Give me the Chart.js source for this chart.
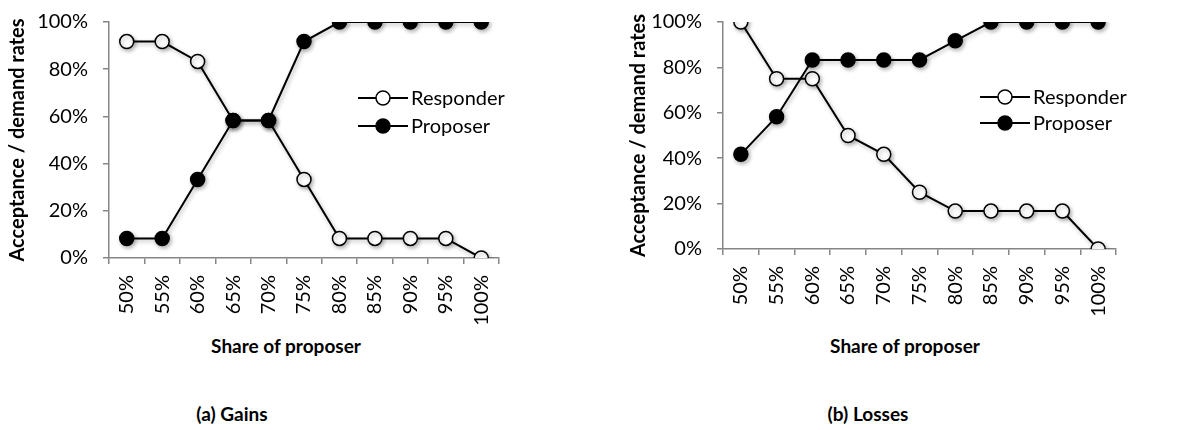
<!DOCTYPE html>
<html>
<head>
<meta charset="utf-8">
<script src="https://cdn.jsdelivr.net/npm/chart.js@4.4.0/dist/chart.umd.min.js"></script>
<style>
  body { margin: 0; background: #fff; width: 1204px; height: 430px; position: relative; overflow: hidden; font-family: Lato, sans-serif; }
  .box { position: absolute; top: 0; height: 330px; }
  .lbl { position: absolute; font-weight: bold; font-size: 19px; color: #000; white-space: nowrap; transform: translate(-50%, -50%); }
</style>
</head>
<body>
<div class="box" style="left:0;width:602px"><canvas id="gains"></canvas></div>
<div class="box" style="left:602px;width:602px"><canvas id="losses"></canvas></div>
<div class="lbl" style="left:286px;top:345px">Share of proposer</div>
<div class="lbl" style="left:905px;top:345px">Share of proposer</div>
<div class="lbl" style="left:232px;top:413px">(a) Gains</div>
<div class="lbl" style="left:868px;top:413px">(b) Losses</div>
<script>
// categories
const shares = ['50%', '55%', '60%', '65%', '70%', '75%', '80%', '85%', '90%', '95%', '100%'];

// (a) gains
const gainsResponder = [0.917, 0.917, 0.833, 0.583, 0.583, 0.333, 0.083, 0.083, 0.083, 0.083, 0];
const gainsProposer  = [0.083, 0.083, 0.333, 0.583, 0.583, 0.917, 1, 1, 1, 1, 1];

// (b) losses
const lossesResponder = [1, 0.75, 0.75, 0.5, 0.417, 0.25, 0.167, 0.167, 0.167, 0.167, 0];
const lossesProposer  = [0.417, 0.583, 0.833, 0.833, 0.833, 0.833, 0.917, 1, 1, 1, 1];

const seriesNames = ['Responder', 'Proposer'];

const axisGrey = '#868686';

// legend drawn inside the plot, excel style
const insideLegend = {
  id: 'insideLegend',
  afterDraw(chart, args, opts) {
    const ctx = chart.ctx;
    ctx.save();
    chart.data.datasets.forEach((ds, i) => {
      const y = opts.y + i * opts.gap;
      ctx.strokeStyle = '#000';
      ctx.lineWidth = 2;
      ctx.beginPath();
      ctx.moveTo(opts.x, y);
      ctx.lineTo(opts.x + 50, y);
      ctx.stroke();
      ctx.beginPath();
      ctx.arc(opts.x + 25, y, 7, 0, Math.PI * 2);
      ctx.fillStyle = ds.pointBackgroundColor;
      ctx.fill();
      ctx.lineWidth = 1.5;
      ctx.stroke();
      ctx.fillStyle = '#000';
      ctx.font = '20px Lato';
      ctx.textBaseline = 'middle';
      ctx.fillText(ds.label, opts.x + 53, y + 1);
    });
    ctx.restore();
  }
};

// soft shadow under the markers
const markerShadow = {
  id: 'markerShadow',
  beforeDatasetsDraw(chart) {
    const ctx = chart.ctx;
    ctx.save();
    ctx.shadowColor = 'rgba(0,0,0,0.3)';
    ctx.shadowBlur = 4;
    ctx.shadowOffsetX = 1.5;
    ctx.shadowOffsetY = 2;
  },
  afterDatasetsDraw(chart) {
    chart.ctx.restore();
  }
};

function makeChart(id, responder, proposer, yWidth, titlePad, xHeight, padTop, padRight, legend) {
  return new Chart(document.getElementById(id), {
    type: 'line',
    data: {
      labels: shares,
      datasets: [
        {
          label: seriesNames[0],
          data: responder,
          borderColor: '#000',
          borderWidth: 2,
          pointRadius: 7,
          pointBorderWidth: 1.5,
          pointBorderColor: '#000',
          pointBackgroundColor: '#fff',
          order: 1
        },
        {
          label: seriesNames[1],
          data: proposer,
          borderColor: '#000',
          borderWidth: 2,
          pointRadius: 7,
          pointBorderWidth: 1.5,
          pointBorderColor: '#000',
          pointBackgroundColor: '#000',
          order: 0
        }
      ]
    },
    options: {
      responsive: true,
      maintainAspectRatio: false,
      animation: false,
      layout: { autoPadding: false, padding: { top: padTop, right: padRight, left: 0, bottom: 0 } },
      plugins: {
        legend: { display: false },
        tooltip: { enabled: false },
        insideLegend: legend
      },
      scales: {
        x: {
          offset: true,
          grid: { offset: true, drawOnChartArea: false, color: axisGrey, tickLength: 6, lineWidth: 1.5 },
          border: { color: axisGrey, width: 1.5 },
          ticks: { minRotation: 90, maxRotation: 90, autoSkip: false, padding: 11, color: '#000', font: { family: 'Lato', size: 20 } },
          afterFit(scale) { scale.height = xHeight; scale.paddingLeft = 0; scale.paddingRight = 0; }
        },
        y: {
          min: 0,
          max: 1,
          grid: { drawOnChartArea: false, color: axisGrey, tickLength: 6, lineWidth: 1.5 },
          border: { color: axisGrey, width: 1.5 },
          ticks: {
            stepSize: 0.2,
            padding: 15,
            color: '#000',
            font: { family: 'Lato', size: 20 },
            callback: v => Math.round(v * 100) + '%'
          },
          title: { display: true, text: 'Acceptance / demand rates', color: '#000', font: { family: 'Lato', size: 20, weight: 'bold' }, padding: { top: titlePad, bottom: 0 } },
          afterFit(scale) { scale.width = yWidth; scale.paddingTop = 0; scale.paddingBottom = 0; }
        }
      }
    },
    plugins: [insideLegend, markerShadow]
  });
}

makeChart('gains', gainsResponder, gainsProposer, 109, 6, 72, 22, 103, { x: 358, y: 98, gap: 28 });
makeChart('losses', lossesResponder, lossesProposer, 121, 25, 81, 22, 88, { x: 980 - 602, y: 97, gap: 26 });
</script>
</body>
</html>
